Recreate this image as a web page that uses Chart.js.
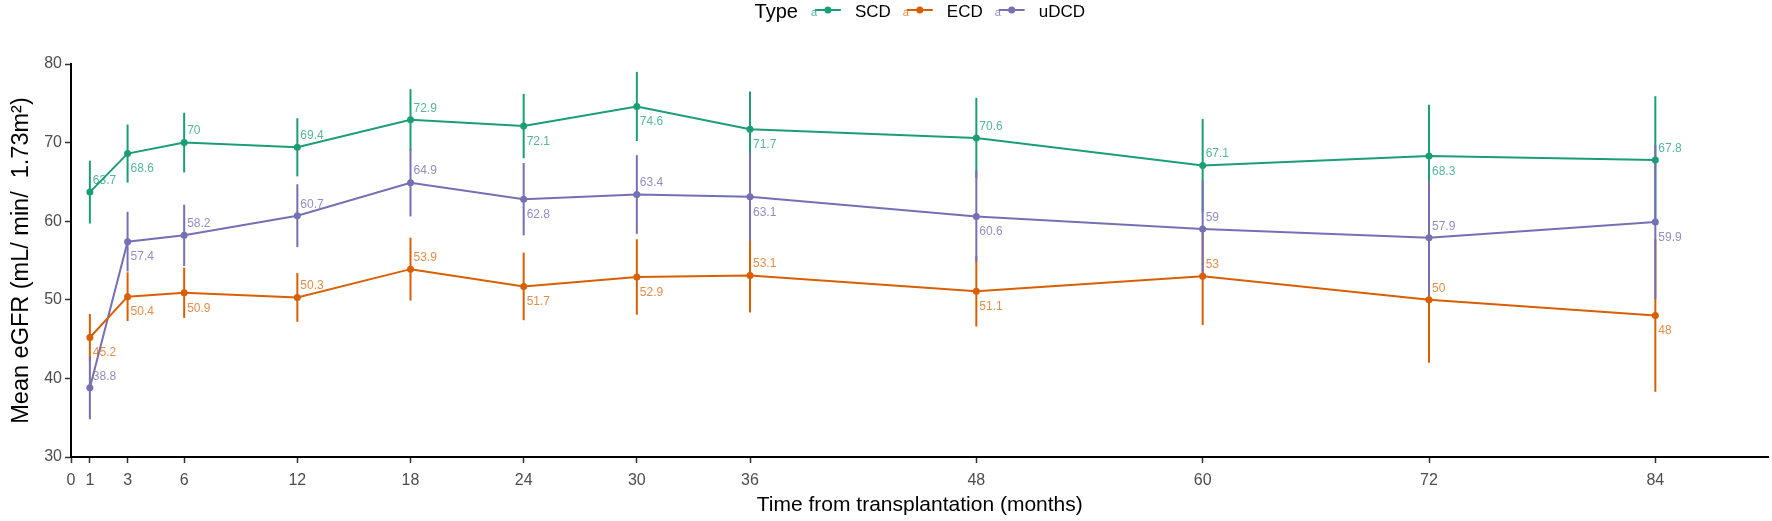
<!DOCTYPE html>
<html>
<head>
<meta charset="utf-8">
<script src="https://cdn.jsdelivr.net/npm/chart.js@4"></script>
<style>
  html, body { margin: 0; padding: 0; background: #fff; }
  canvas { display: block; }
</style>
</head>
<body>
<canvas id="chart" width="1772" height="521"></canvas>
<script>
// months after transplantation
const months = [1, 3, 6, 12, 18, 24, 30, 36, 48, 60, 72, 84];
const xTicks = [0, 1, 3, 6, 12, 18, 24, 30, 36, 48, 60, 72, 84];
const yTicks = [30, 40, 50, 60, 70, 80];

// mean eGFR for each donor type
const scdMean = [63.7, 68.6, 70, 69.4, 72.9, 72.1, 74.6, 71.7, 70.6, 67.1, 68.3, 67.8];
const ecdMean = [45.2, 50.4, 50.9, 50.3, 53.9, 51.7, 52.9, 53.1, 51.1, 53, 50, 48];
const udcdMean = [38.8, 57.4, 58.2, 60.7, 64.9, 62.8, 63.4, 63.1, 60.6, 59, 57.9, 59.9];

// half length of the error bars
const scdErr = [4.0, 3.7, 3.8, 3.7, 3.9, 4.1, 4.4, 4.8, 5.1, 5.9, 6.5, 8.1];
const ecdErr = [3.0, 3.1, 3.2, 3.1, 4.0, 4.3, 4.8, 4.7, 4.5, 6.2, 8.0, 9.7];
const udcdErr = [4.0, 3.8, 3.9, 4.0, 4.3, 4.6, 5.0, 5.6, 5.8, 6.2, 7.3, 9.8];

// where each value label sits: a = above, b = below
const scdSide = ["a", "b", "a", "a", "a", "b", "b", "b", "a", "a", "b", "a"];
const ecdSide = ["b", "b", "b", "a", "a", "b", "b", "a", "b", "a", "a", "b"];
const udcdSide = ["a", "b", "a", "a", "a", "b", "a", "b", "b", "a", "a", "b"];

const FONT = "'Liberation Sans', Arial, sans-serif";

function series(label, color, soft, mean, err, side) {
  return {
    label: label,
    data: months.map((m, i) => ({ x: m, y: mean[i] })),
    err: err,
    side: side,
    soft: soft,
    borderColor: color,
    backgroundColor: color,
    borderWidth: 2,
    pointRadius: 3.5,
    pointBorderWidth: 0,
    pointHoverRadius: 3.5,
    tension: 0,
  };
}

//vertical error bars, drawn under the lines
const errorBars = {
  id: "errorBars",
  beforeDatasetsDraw(chart) {
    const { ctx, scales: { x, y } } = chart;
    chart.data.datasets.forEach((ds) => {
      ctx.save();
      ctx.strokeStyle = ds.borderColor;
      ctx.lineWidth = 2;
      ds.data.forEach((p, j) => {
        const px = x.getPixelForValue(p.x);
        ctx.beginPath();
        ctx.moveTo(px, y.getPixelForValue(p.y - ds.err[j]));
        ctx.lineTo(px, y.getPixelForValue(p.y + ds.err[j]));
        ctx.stroke();
      });
      ctx.restore();
    });
  },
};

//value labels next to each point
const valueLabels = {
  id: "valueLabels",
  afterDatasetsDraw(chart) {
    const { ctx, scales: { x, y } } = chart;
    ctx.save();
    ctx.font = "12px " + FONT;
    ctx.textAlign = "left";
    ctx.textBaseline = "middle";
    chart.data.datasets.forEach((ds) => {
      ctx.fillStyle = ds.soft;
      ds.data.forEach((p, j) => {
        const px = x.getPixelForValue(p.x) + 3;
        const py = y.getPixelForValue(p.y) + (ds.side[j] === "a" ? -11.5 : 15.5);
        ctx.fillText(String(p.y), px, py);
      });
    });
    ctx.restore();
  },
};

//ggplot style legend on one row: "Type" then keys
const typeLegend = {
  id: "typeLegend",
  afterDraw(chart) {
    const { ctx, chartArea } = chart;
    const cy = 11;
    ctx.save();
    ctx.textBaseline = "middle";
    ctx.font = "20px " + FONT;
    const titleW = ctx.measureText("Type").width;
    ctx.font = "17px " + FONT;
    const items = chart.data.datasets.map((ds) => ({ ds: ds, w: ctx.measureText(ds.label).width }));
    let total = titleW + 13;
    items.forEach((it) => (total += 30 + 14 + it.w + 12));
    total -= 12;
    let x0 = (chartArea.left + chartArea.right) / 2 - total / 2;

    ctx.fillStyle = "#000";
    ctx.font = "20px " + FONT;
    ctx.fillText("Type", x0, cy + 1);
    x0 += titleW + 13;

    items.forEach((it) => {
      const c = it.ds.borderColor;
      ctx.strokeStyle = c;
      ctx.lineWidth = 2;
      ctx.beginPath();
      ctx.moveTo(x0 + 4, cy - 1);
      ctx.lineTo(x0 + 30, cy - 1);
      ctx.stroke();
      ctx.fillStyle = c;
      ctx.beginPath();
      ctx.arc(x0 + 17, cy - 1, 3.5, 0, Math.PI * 2);
      ctx.fill();
      ctx.fillStyle = it.ds.soft;
      ctx.font = "11px " + FONT;
      ctx.fillText("a", x0, cy + 2);
      x0 += 30 + 14;
      ctx.fillStyle = "#000";
      ctx.font = "17px " + FONT;
      ctx.fillText(it.ds.label, x0, cy + 1);
      x0 += it.w + 12;
    });
    ctx.restore();
  },
};

new Chart(document.getElementById("chart"), {
  type: "line",
  data: {
    datasets: [
      series("SCD", "#1B9E77", "rgba(27,158,119,0.75)", scdMean, scdErr, scdSide),
      series("ECD", "#D95F02", "rgba(217,95,2,0.72)", ecdMean, ecdErr, ecdSide),
      series("uDCD", "#7570B3", "rgba(117,112,179,0.8)", udcdMean, udcdErr, udcdSide),
    ],
  },
  plugins: [errorBars, valueLabels, typeLegend],
  options: {
    responsive: false,
    animation: false,
    devicePixelRatio: 1,
    layout: { padding: { top: 64, right: 2, left: 0, bottom: 0 } },
    plugins: {
      legend: { display: false },
      tooltip: { enabled: false },
    },
    scales: {
      x: {
        type: "linear",
        min: 0,
        max: 90,
        afterBuildTicks: (s) => { s.ticks = xTicks.map((v) => ({ value: v })); },
        afterFit: (s) => { s.height = 64; },
        ticks: {
          autoSkip: false,
          maxRotation: 0,
          color: "#4D4D4D",
          padding: 8,
          font: { family: FONT, size: 16 },
        },
        grid: { drawOnChartArea: false, tickLength: 6, tickColor: "#333", tickWidth: 1.5 },
        border: { color: "#000", width: 2 },
        title: {
          display: true,
          text: "Time from transplantation (months)",
          color: "#000",
          font: { family: FONT, size: 21 },
          padding: { top: 0, bottom: 3 },
        },
      },
      y: {
        min: 30,
        max: 80,
        afterBuildTicks: (s) => { s.ticks = yTicks.map((v) => ({ value: v })); },
        afterFit: (s) => { s.width = 71; },
        ticks: {
          color: "#4D4D4D",
          padding: 3,
          font: { family: FONT, size: 16 },
        },
        grid: { drawOnChartArea: false, tickLength: 6, tickColor: "#333", tickWidth: 1.5 },
        border: { color: "#000", width: 2 },
        title: {
          display: true,
          text: "Mean eGFR (mL/ min/  1.73m²)",
          color: "#000",
          font: { family: FONT, size: 23.5 },
          padding: { top: 7, bottom: 0 },
        },
      },
    },
  },
});
</script>
</body>
</html>
